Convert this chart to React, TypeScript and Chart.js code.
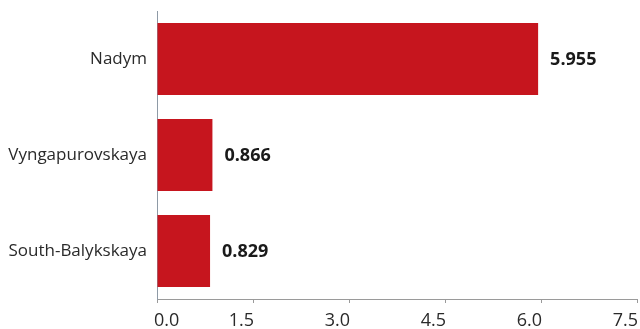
import React, { useEffect, useRef } from "react";
import { Chart, registerables } from "chart.js";

Chart.register(...registerables);

const categories = ["Nadym", "Vyngapurovskaya", "South-Balykskaya"];
const values = [5.955, 0.866, 0.829];
const valueLabels = ["5.955", "0.866", "0.829"];
const xTicks = [0, 1.5, 3.0, 4.5, 6.0, 7.5];
const xTickLabels = ["0.0", "1.5", "3.0", "4.5", "6.0", "7.5"];

const FONT = "'Open Sans', 'Noto Sans', sans-serif";

const labelPlugin = {
  id: "customLabels",
  afterDatasetsDraw(chart: any) {
    const ctx = chart.ctx;
    const meta = chart.getDatasetMeta(0);
    ctx.save();
    ctx.font = `bold 18px ${FONT}`;
    ctx.fillStyle = "#1a1a1a";
    ctx.textAlign = "left";
    ctx.textBaseline = "middle";
    meta.data.forEach((bar: any, i: number) => {
      ctx.fillText(valueLabels[i], bar.x + 12, bar.y + 1);
    });
    // x-axis tick labels
    const xs = chart.scales.x;
    ctx.font = `18px ${FONT}`;
    ctx.fillStyle = "#2a2a2a";
    ctx.textBaseline = "alphabetic";
    xTicks.forEach((v, i) => {
      const px = xs.getPixelForValue(v);
      if (i === 0) {
        ctx.textAlign = "left";
        ctx.fillText(xTickLabels[i], px - 3, 326);
      } else {
        ctx.textAlign = "right";
        ctx.fillText(xTickLabels[i], px + 1, 326);
      }
    });
    ctx.restore();
  },
};

export default function App() {
  const ref = useRef<HTMLCanvasElement | null>(null);
  useEffect(() => {
    if (!ref.current) return;
    const chart = new Chart(ref.current, {
      type: "bar",
      data: {
        labels: categories,
        datasets: [
          {
            data: values,
            backgroundColor: "#c6151e",
            borderWidth: 0,
            barPercentage: 0.75,
            categoryPercentage: 1,
          },
        ],
      },
      options: {
        indexAxis: "y",
        animation: false,
        responsive: false,
        maintainAspectRatio: false,
        layout: { padding: { top: 11, right: 3, left: 0, bottom: 0 } },
        plugins: { legend: { display: false }, tooltip: { enabled: false } },
        scales: {
          x: {
            min: 0,
            max: 7.5,
            afterBuildTicks: (s: any) => {
              s.ticks = xTicks.map((v) => ({ value: v }));
            },
            afterFit: (s: any) => {
              s.height = 30;
              s.paddingLeft = 0;
              s.paddingRight = 0;
            },
            grid: {
              display: true,
              drawOnChartArea: false,
              drawTicks: true,
              tickLength: 4,
              color: "#9a9a9a",
            },
            border: { display: true, color: "#9a9a9a", width: 1 },
            ticks: { display: false },
          },
          y: {
            afterFit: (s: any) => {
              s.width = 157;
              s.paddingTop = 0;
              s.paddingBottom = 0;
            },
            grid: { display: true, drawOnChartArea: false, drawTicks: false },
            border: { display: true, color: "#8e9aa6", width: 1 },
            ticks: {
              color: "#2a2a2a",
              font: { family: FONT, size: 17 },
              padding: 10,
            },
          },
        },
      },
      plugins: [labelPlugin],
    });
    return () => chart.destroy();
  }, []);
  return (
    <div style={{ position: "fixed", left: 0, top: 0, width: 640, height: 329, background: "#fff" }}>
      <canvas ref={ref} width={640} height={329} style={{ display: "block" }} />
    </div>
  );
}
